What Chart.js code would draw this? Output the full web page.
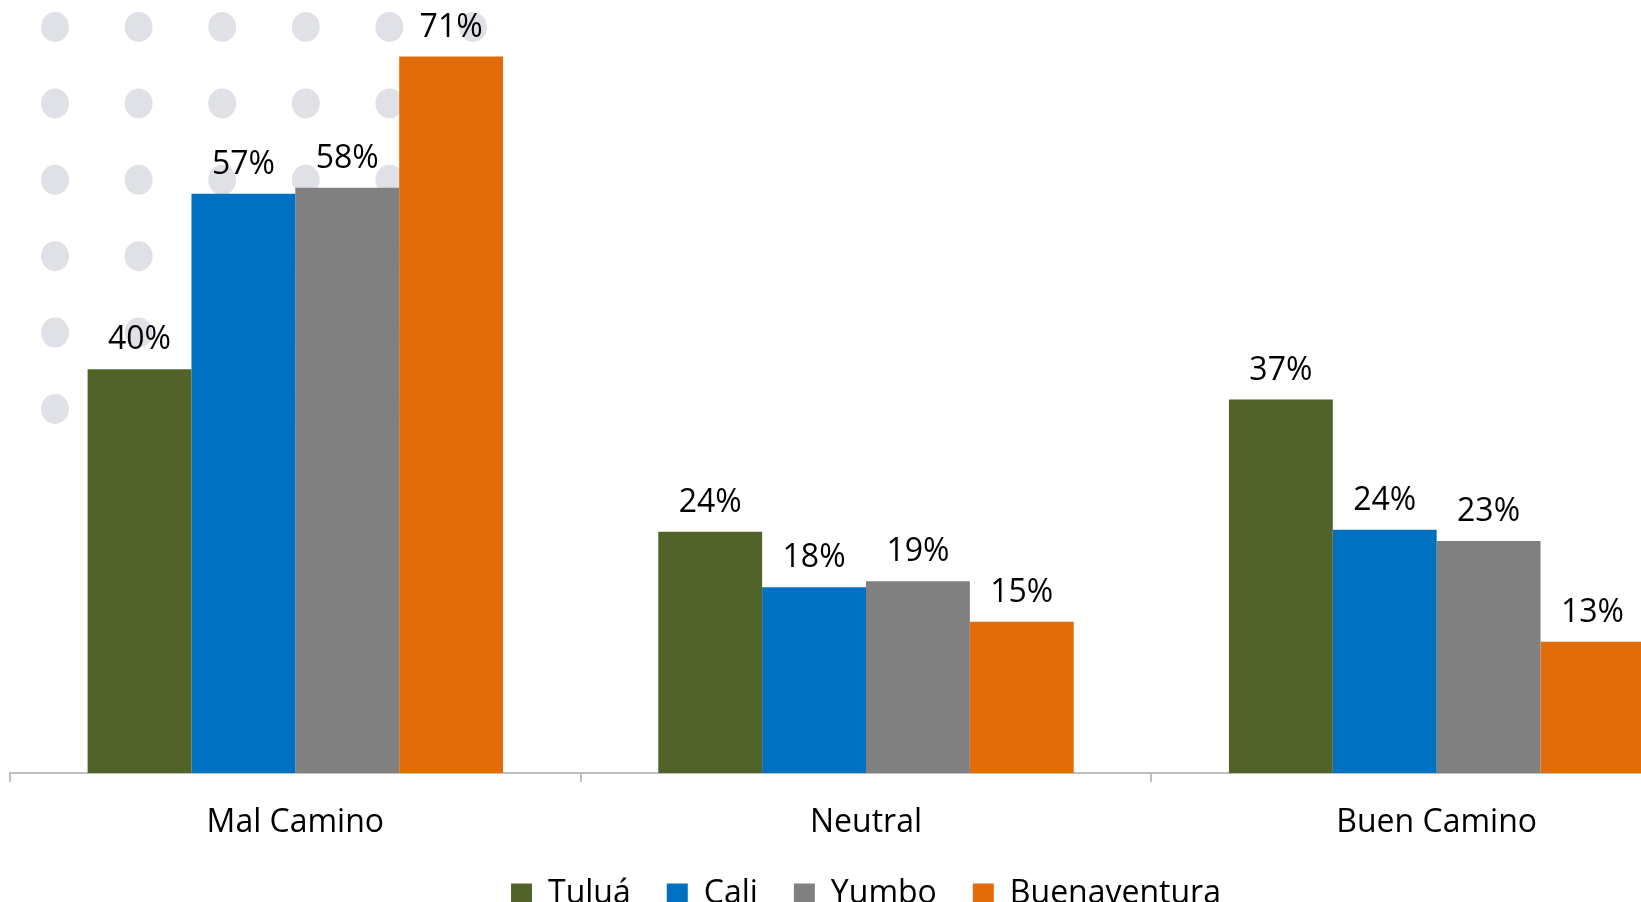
<!DOCTYPE html>
<html>
<head>
<meta charset="utf-8">
<script src="https://cdn.jsdelivr.net/npm/chart.js@4.4.1/dist/chart.umd.min.js"></script>
<style>
  html, body { margin: 0; padding: 0; overflow: hidden; background: #ffffff; width: 1641px; height: 902px; }
  #wrap { position: absolute; left: 0; top: 0; width: 1722px; height: 920px; }
</style>
</head>
<body>
<div id="wrap"><canvas id="c"></canvas></div>
<script>
const categories = ["Mal Camino", "Neutral", "Buen Camino"];
const seriesNames = ["Tuluá", "Cali", "Yumbo", "Buenaventura"];
const tulua = [40.0, 23.9, 37.0];
const cali = [57.4, 18.4, 24.1];
const yumbo = [58.0, 19.0, 23.0];
const buenaventura = [71.0, 15.0, 13.0];
const seriesColors = ["#526329", "#0070C0", "#808080", "#E36C0A"];

const FONT = "'Open Sans', 'Noto Sans', sans-serif";

const dotsPlugin = {
  id: 'dots',
  beforeDatasetsDraw(chart) {
    const ctx = chart.ctx;
    ctx.save();
    ctx.fillStyle = '#DFE1E7';
    for (let r = 0; r < 6; r++) {
      for (let k = 0; k < 6; k++) {
        ctx.beginPath();
        ctx.ellipse(55 + k * 83.6, 27 + r * 76.4, 14, 15, 0, 0, Math.PI * 2);
        ctx.fill();
      }
    }
    ctx.restore();
  }
};

const labelPlugin = {
  id: 'barLabels',
  afterDatasetsDraw(chart) {
    const ctx = chart.ctx;
    ctx.save();
    ctx.font = "32px " + FONT;
    ctx.fillStyle = '#000000';
    ctx.textAlign = 'center';
    ctx.textBaseline = 'middle';
    chart.data.datasets.forEach((ds, di) => {
      const meta = chart.getDatasetMeta(di);
      meta.data.forEach((bar, i) => {
        ctx.fillText(Math.round(ds.data[i]) + '%', bar.x, bar.y - 29);
      });
    });
    ctx.restore();
  }
};

const seriesData = [tulua, cali, yumbo, buenaventura];

new Chart(document.getElementById('c'), {
  type: 'bar',
  data: {
    labels: categories,
    datasets: seriesNames.map((n, i) => ({
      label: n,
      data: seriesData[i],
      backgroundColor: seriesColors[i],
      borderWidth: 0,
      categoryPercentage: 0.728,
      barPercentage: 1.0
    }))
  },
  options: {
    responsive: true,
    maintainAspectRatio: false,
    animation: false,
    layout: { padding: { left: 10, right: 0, top: 0, bottom: 0 } },
    scales: {
      y: { display: false, min: 0, max: 76.6 },
      x: {
        grid: { display: true, drawOnChartArea: false, offset: true, color: '#BFBFBF', lineWidth: 2, tickLength: 9 },
        border: { display: true, color: '#BFBFBF', width: 2 },
        ticks: { color: '#000000', font: { family: FONT, size: 32 }, padding: 22 },
        afterFit(scale) { scale.height = 69; }
      }
    },
    plugins: {
      legend: {
        position: 'bottom',
        labels: {
          color: '#000000',
          font: { family: FONT, size: 32 },
          boxWidth: 21,
          boxHeight: 21,
          padding: 36
        }
      },
      tooltip: { enabled: false }
    }
  },
  plugins: [dotsPlugin, labelPlugin]
});
</script>
</body>
</html>
